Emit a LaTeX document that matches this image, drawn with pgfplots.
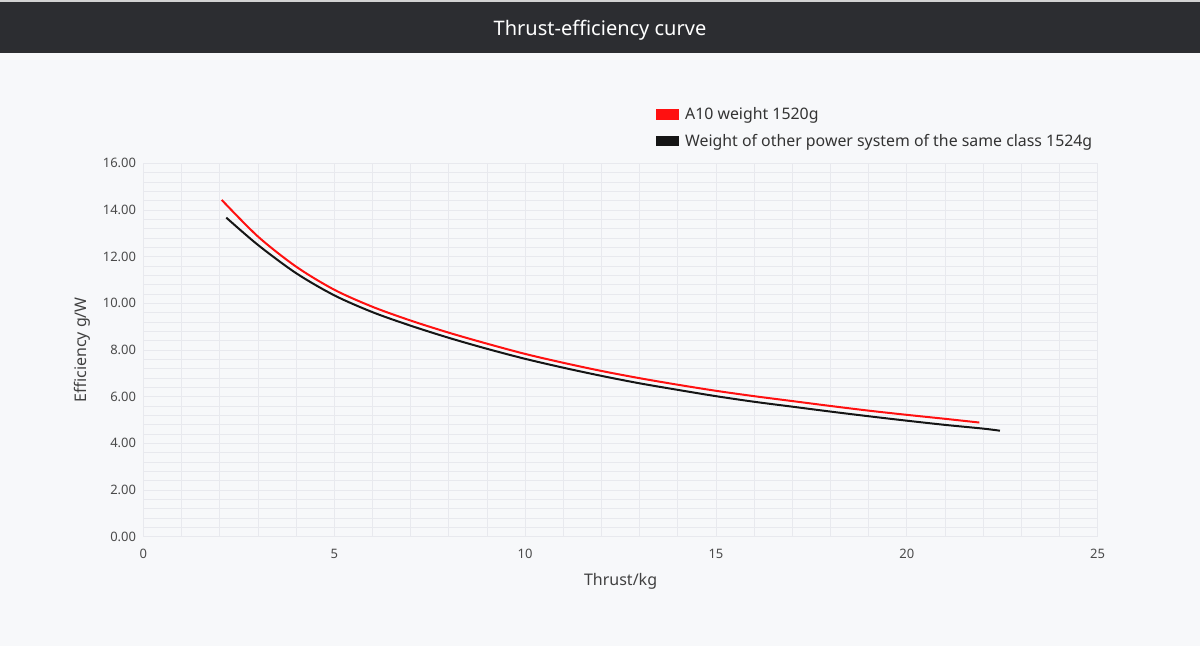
\documentclass[border=0pt]{standalone}
\usepackage{fontspec}
\setmainfont{Noto Sans}
\usepackage{pgfplots}
\usepackage{pgfplotstable}
\pgfplotsset{compat=1.18}

\definecolor{pagebg}{HTML}{F7F8FA}
\definecolor{titlebar}{HTML}{2C2D31}
\definecolor{gridc}{HTML}{E8E9EE}
\definecolor{tickc}{HTML}{4A4A4A}
\definecolor{labc}{HTML}{404040}
\definecolor{legc}{HTML}{333333}
\definecolor{a10red}{HTML}{FF1010}
\definecolor{otherblack}{HTML}{151515}

% Thrust (kg) vs efficiency (g/W)
\pgfplotstableread{
x     y
2.05  14.43
3     12.86
4     11.57
5     10.58
6     9.85
7     9.26
8     8.74
9     8.27
10    7.83
11    7.45
12    7.10
13    6.79
14    6.51
15    6.25
16    6.02
17    5.81
18    5.60
19    5.40
20    5.22
21    5.05
21.9  4.89
}\aten

\pgfplotstableread{
x     y
2.17  13.67
3     12.50
4     11.29
5     10.34
6     9.62
7     9.04
8     8.52
9     8.05
10    7.62
11    7.24
12    6.89
13    6.57
14    6.29
15    6.02
16    5.78
17    5.57
18    5.36
19    5.16
20    4.97
21    4.79
22    4.63
22.44 4.54
}\other

\begin{document}
\begin{tikzpicture}
% page background and title bar
\fill[pagebg] (0pt,0pt) rectangle (900pt,484.5pt);
\fill[titlebar] (0pt,444.75pt) rectangle (900pt,483pt);
\fill[gray!35] (0pt,483pt) rectangle (900pt,484.5pt);
\node[text=white, font=\fontsize{15pt}{18pt}\selectfont] at (450pt,461.5pt) {Thrust-efficiency curve};

\begin{axis}[
  at={(107.6pt,82.0pt)}, anchor=south west,
  scale only axis, width=715.65pt, height=280.05pt,
  xmin=0, xmax=25, ymin=0, ymax=16,
  xtick={0,5,...,25}, ytick={0,2,...,16},
  minor x tick num=4, minor y tick num=4,
  grid=both,
  major grid style={gridc, line width=0.6pt},
  minor grid style={gridc, line width=0.6pt},
  axis line style={draw=none},
  tick style={draw=none},
  /pgf/number format/assume math mode=true,
  yticklabel style={/pgf/number format/fixed, /pgf/number format/fixed zerofill, /pgf/number format/precision=2, xshift=-2pt},
  tick label style={font=\fontsize{9.75pt}{11pt}\selectfont, text=tickc},
  xticklabel style={yshift=-6pt},
  xlabel={Thrust/kg},
  ylabel={Efficiency g/W},
  label style={font=\fontsize{12pt}{14pt}\selectfont, text=labc},
  xlabel style={at={(axis description cs:0.5,0)}, anchor=center, yshift=-33.2pt},
  ylabel style={at={(axis description cs:0,0.5)}, anchor=center, yshift=45.75pt},
  legend style={at={(rel axis cs:0.537,1.153)}, anchor=north west,
    draw=none, fill=none, inner sep=0pt, row sep=7.25pt,
    font=\fontsize{11.9pt}{13pt}\selectfont, text=legc,
    nodes={inner xsep=4.5pt, inner ysep=1pt}},
  legend cell align=left,
  legend image code/.code={\fill[#1] (0pt,-3.2pt) rectangle (15.75pt,3.2pt);},
]
\addplot[a10red, line width=1.5pt, smooth] table[x=x,y=y] {\aten};
\addlegendentry{A10 weight 1520g}
\addplot[otherblack, line width=1.5pt, smooth] table[x=x,y=y] {\other};
\addlegendentry{Weight of other power system of the same class 1524g}
\end{axis}
\end{tikzpicture}
\end{document}
